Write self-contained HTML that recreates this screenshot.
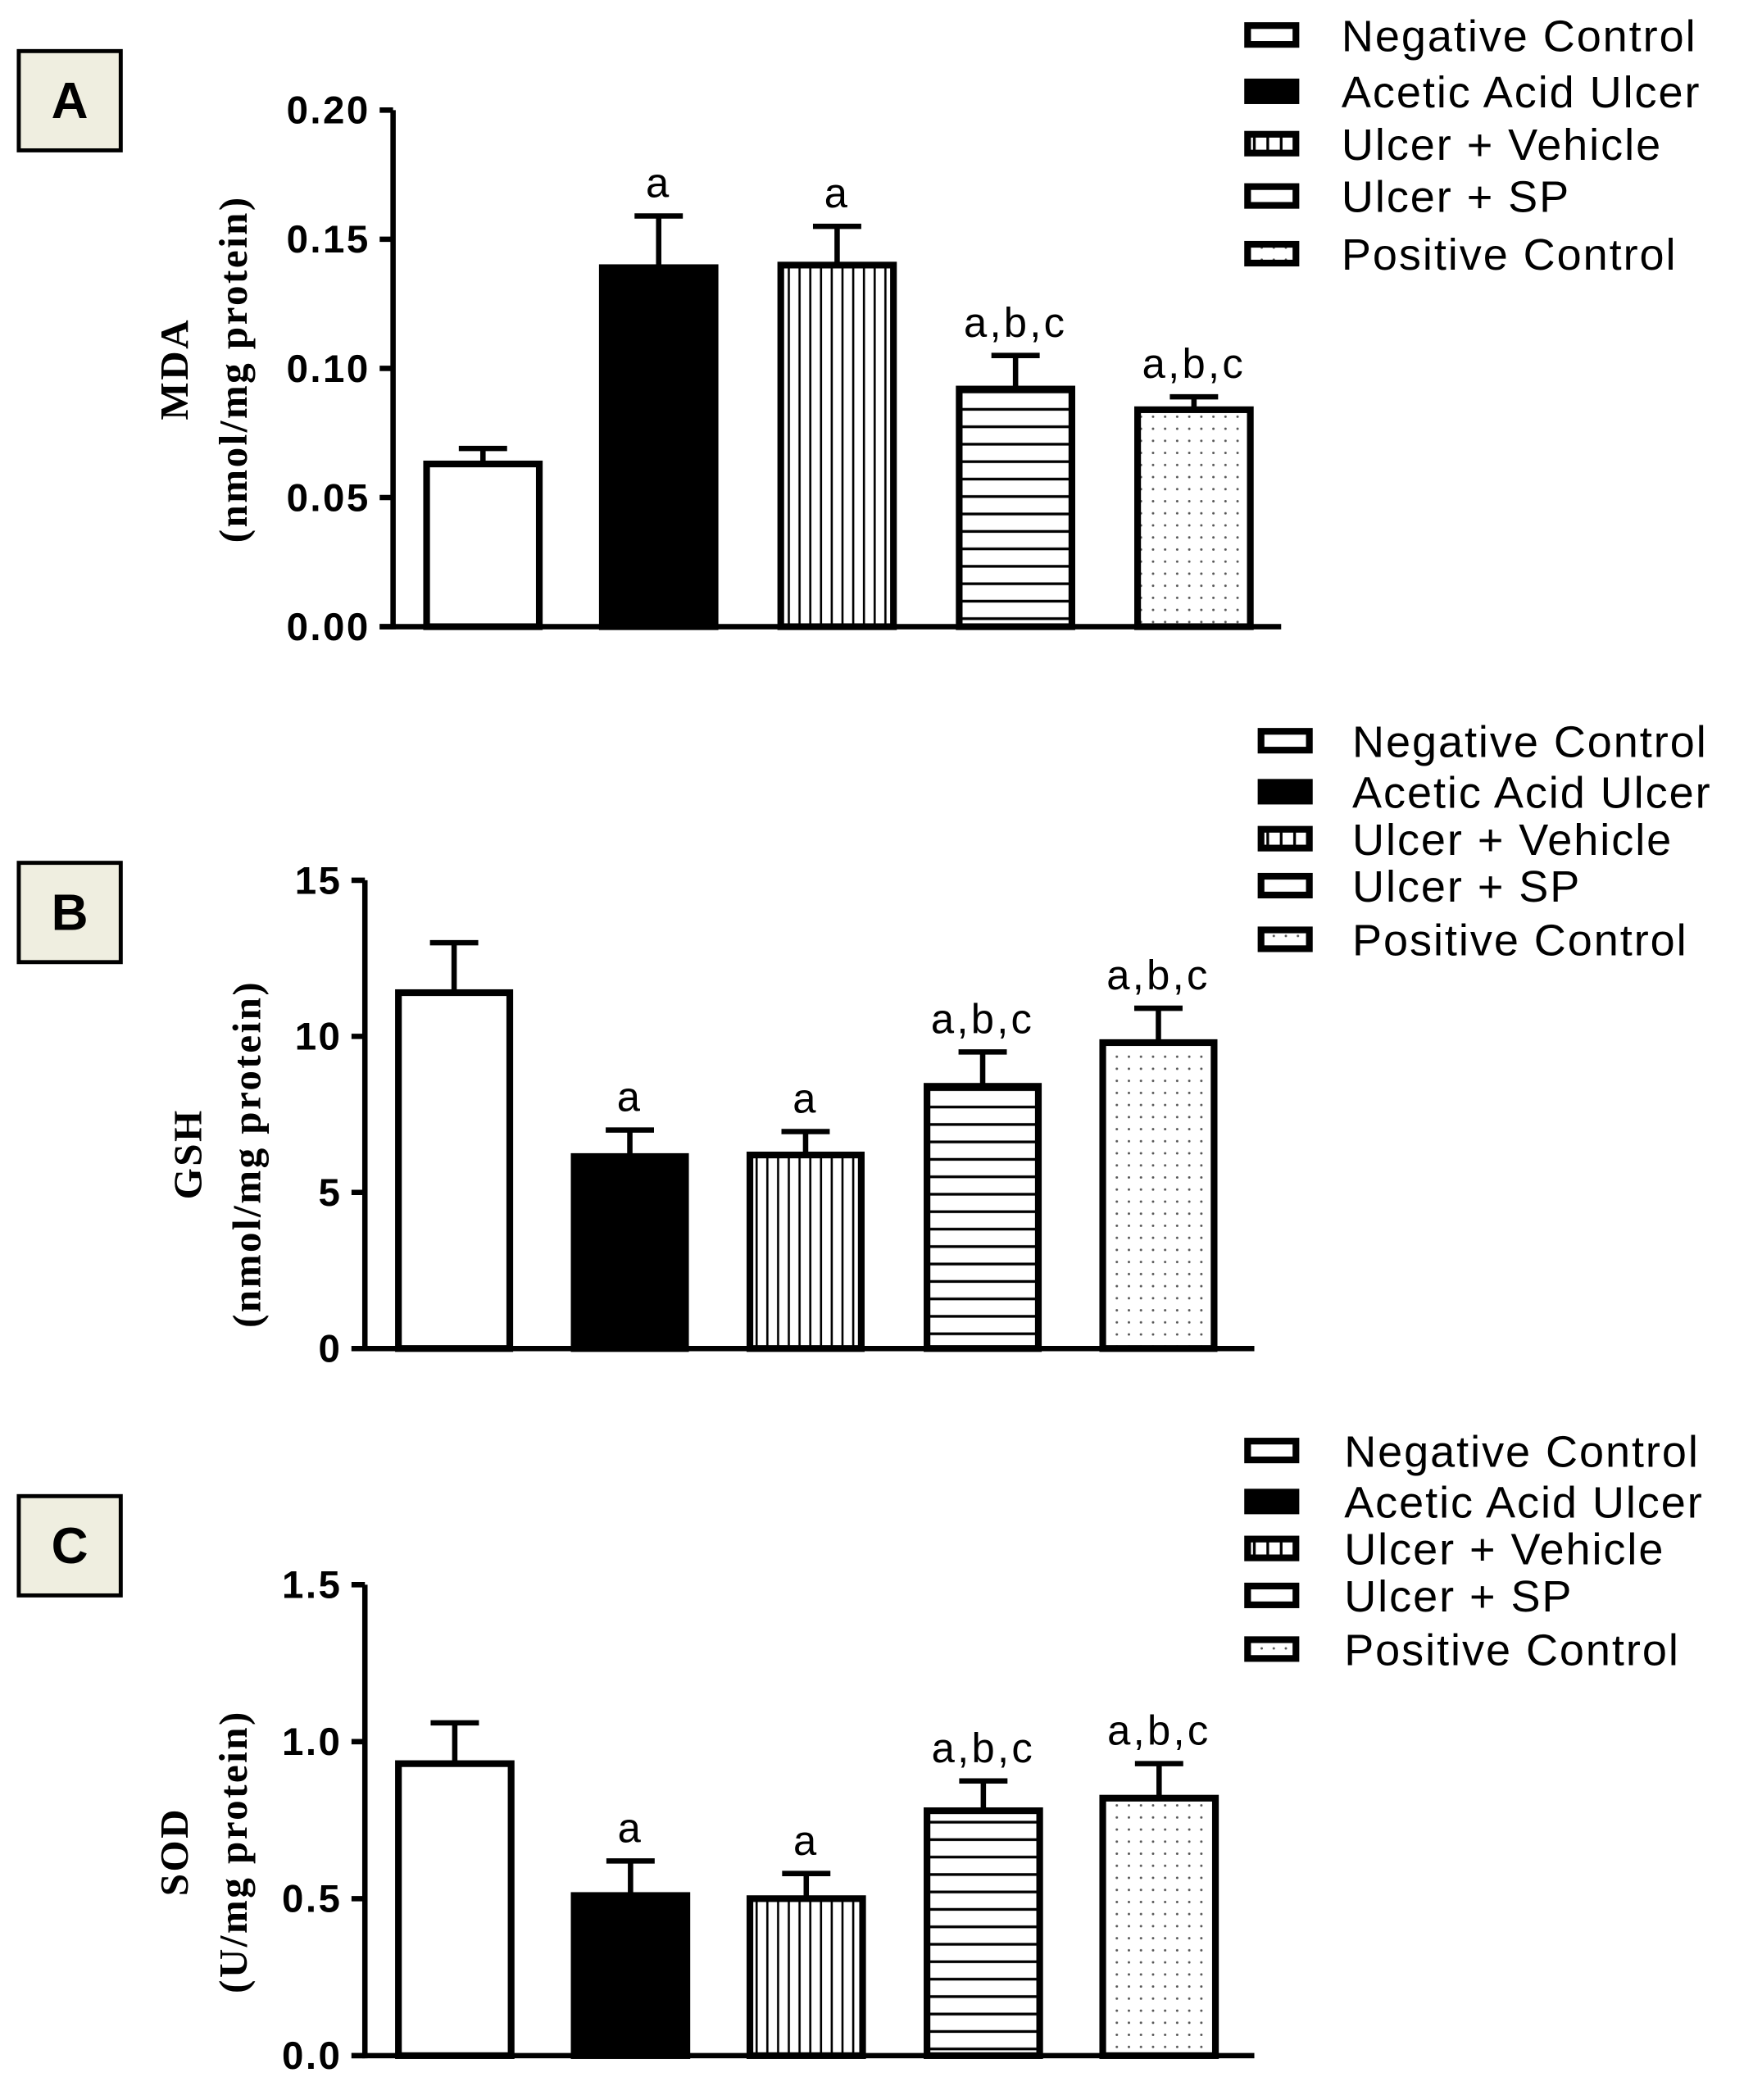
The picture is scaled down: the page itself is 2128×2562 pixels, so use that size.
<!DOCTYPE html>
<html><head><meta charset="utf-8"><style>
html,body{margin:0;padding:0;background:#fff;}
svg{display:block;}
</style></head>
<body>
<svg id="fig" xmlns="http://www.w3.org/2000/svg" width="2128" height="2562" viewBox="0 0 1300 1565">
<defs>
<pattern id="pv" patternUnits="userSpaceOnUse" width="8" height="8"><rect width="8" height="8" fill="#fff"/><line x1="4" y1="0" x2="4" y2="8" stroke="#000" stroke-width="1.6"/></pattern>
<pattern id="ph" patternUnits="userSpaceOnUse" width="13" height="13"><rect width="13" height="13" fill="#fff"/><line x1="0" y1="6" x2="13" y2="6" stroke="#000" stroke-width="2"/></pattern>
<pattern id="pd" patternUnits="userSpaceOnUse" width="9" height="9"><rect width="9" height="9" fill="#fff"/><circle cx="4.5" cy="4.5" r="0.9" fill="#555"/></pattern>
<pattern id="lv" patternUnits="userSpaceOnUse" width="10" height="10"><rect width="10" height="10" fill="#fff"/><line x1="5" y1="0" x2="5" y2="10" stroke="#000" stroke-width="2"/></pattern>
</defs>
</svg>
<script>
const groups = ["Negative Control","Acetic Acid Ulcer","Ulcer + Vehicle","Ulcer + SP","Positive Control"];
const mdaValues = [0.063,0.139,0.140,0.092,0.084];
const mdaErrors = [0.069,0.159,0.155,0.105,0.089];
const mdaTicks = ["0.00","0.05","0.10","0.15","0.20"];
const gshValues = [11.4,6.15,6.2,8.4,9.8];
const gshErrors = [13.0,7.0,6.95,9.5,10.9];
const gshTicks = ["0","5","10","15"];
const sodValues = [0.93,0.51,0.50,0.78,0.82];
const sodErrors = [1.06,0.62,0.58,0.875,0.93];
const sodTicks = ["0.0","0.5","1.0","1.5"];
const annotations = ["","a","a","a,b,c","a,b,c"];

const NS="http://www.w3.org/2000/svg";
const svg=document.getElementById('fig');
const fills=["#fff","#000","url(#pv)","url(#ph)","url(#pd)"];
const legFills=["#fff","#000","url(#lv)","#fff","url(#pd)"];
function mk(tag,attrs,parent,text){const e=document.createElementNS(NS,tag);for(const k in attrs)e.setAttribute(k,attrs[k]);if(text!==undefined)e.textContent=text;(parent||svg).appendChild(e);return e;}

const panels=[
 {id:"A",vals:mdaValues,errs:mdaErrors,ticks:mdaTicks,max:0.20,ax:293,top:82,bot:467,xend:955,bx:[318,449,582,715,848],bw:84,box:[14,38],leg:{sx:928,tx:1000,ys:[26,68,107,146,189]},t1:"MDA",t2:"(nmol/mg protein)",tx:140,tcy:275},
 {id:"B",vals:gshValues,errs:gshErrors,ticks:gshTicks,max:15,ax:272,top:656,bot:1005,xend:935,bx:[297,428,559,691,822],bw:83,box:[14,643],leg:{sx:938,tx:1008,ys:[552,590,625,660,700]},t1:"GSH",t2:"(nmol/mg protein)",tx:150,tcy:860},
 {id:"C",vals:sodValues,errs:sodErrors,ticks:sodTicks,max:1.5,ax:272,top:1181,bot:1532,xend:935,bx:[297,428,559,691,822],bw:84,box:[14,1115],leg:{sx:928,tx:1002,ys:[1081,1119,1154,1189,1229]},t1:"SOD",t2:"(U/mg protein)",tx:140,tcy:1380}
];

panels.forEach(p=>{
 const g=mk('g',{});
 
 
 const y=v=>p.bot-(v/p.max)*(p.bot-p.top);
 const lb=mk('rect',{x:p.box[0],y:p.box[1],width:76,height:74,fill:"#efeee0",stroke:"#000","stroke-width":3},g);
 
 
 const lt=mk('text',{x:p.box[0]+38,y:p.box[1]+50,"text-anchor":"middle","font-family":"Liberation Sans, sans-serif","font-weight":"bold","font-size":38},g,p.id);
 
 
 p.vals.forEach((v,i)=>{
  const x=p.bx[i],w=p.bw,cx=x+w/2;
  const ey=y(p.errs[i]);
  const el=mk('line',{x1:cx,y1:y(v),x2:cx,y2:ey,stroke:"#000","stroke-width":4},g);
  
  
  const cap=mk('line',{x1:cx-18,y1:ey,x2:cx+18,y2:ey,stroke:"#000","stroke-width":4},g);
  
  
  const b=mk('rect',{x:x,y:y(v),width:w,height:p.bot-y(v),fill:fills[i],stroke:"#000","stroke-width":5},g);
  
  
  if(annotations[i]){
   const a=mk('text',{x:cx,y:ey-14,"text-anchor":"middle","font-family":"Liberation Sans, sans-serif","font-size":31,"letter-spacing":2},g,annotations[i]);
   
   
  }
 });
 const ya=mk('line',{x1:p.ax,y1:p.top,x2:p.ax,y2:p.bot+2,stroke:"#000","stroke-width":4},g);
 
 
 const xa=mk('line',{x1:p.ax-10,y1:p.bot,x2:p.xend,y2:p.bot,stroke:"#000","stroke-width":4},g);
 
 
 p.ticks.forEach(t=>{
  const ty=y(parseFloat(t));
  const tk=mk('line',{x1:p.ax-10,y1:ty,x2:p.ax,y2:ty,stroke:"#000","stroke-width":4},g);
  
  
  const tl=mk('text',{x:p.ax-17,y:ty+10,"text-anchor":"end","font-family":"Liberation Sans, sans-serif","font-weight":"bold","font-size":29,"letter-spacing":1.5},g,t);
  
  
 });
 const yt=mk('text',{transform:`translate(${p.tx},${p.tcy}) rotate(-90)`,"text-anchor":"middle","font-family":"Liberation Serif, serif","font-weight":"bold","font-size":30,"letter-spacing":1.5},g);
 
 
 mk('tspan',{x:0,y:0},yt,p.t1);
 mk('tspan',{x:0,y:44},yt,p.t2);
 groups.forEach((name,i)=>{
  const ly=p.leg.ys[i];
  const sw=mk('rect',{x:p.leg.sx+2,y:ly-7,width:36,height:14,fill:legFills[i],stroke:"#000","stroke-width":5},g);
  
  
  const tx=mk('text',{x:p.leg.tx,y:ly+12,"font-family":"Liberation Sans, sans-serif","font-size":33,"letter-spacing":1.2},g,name);
  
  
 });
});
</script>
</body></html>
